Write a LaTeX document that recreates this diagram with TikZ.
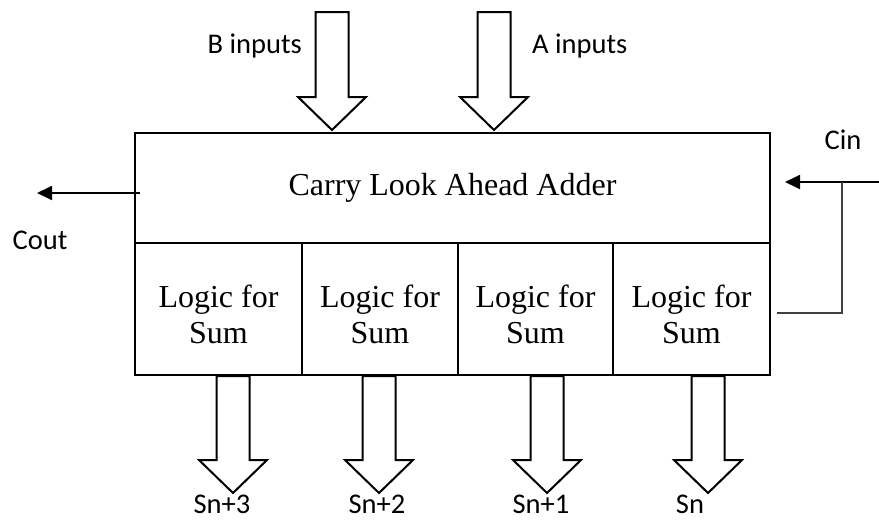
\documentclass[tikz,border=0pt]{standalone}
\usepackage{fontspec}
\setmainfont{Liberation Serif}
\newfontfamily\labfont{Carlito}
\usetikzlibrary{arrows.meta,calc}
\tikzset{
  box/.style={draw, line width=2pt, inner sep=0pt, outer sep=0pt, font=\fontsize{32}{36}\selectfont},
  cell/.style={box, minimum height=132pt},
  celltext/.style={inner sep=0pt, align=center, font=\fontsize{32}{36}\selectfont},
  lab/.style={font=\labfont\fontsize{28.5}{30}\selectfont, inner sep=0pt},
  sig/.style={line width=1.8pt, -{Triangle[length=15pt,width=14pt]}},
  fb/.style={line width=1.3pt, draw=black!75},
  blockarrow/.pic={
    \draw[line width=2pt, fill=white, line join=miter]
      (-16.5,0) -- (-16.5,#1) -- (-34,#1) -- (0,#1+33) -- (34,#1) -- (16.5,#1) -- (16.5,0) -- cycle;
  },
  blockarrow/.default=85
}
\begin{document}
\begin{tikzpicture}[x=1pt,y=-1pt]
\useasboundingbox (0,0) rectangle (879,520);
% main box
\node[box, minimum width=635pt, minimum height=110pt, anchor=north west] (cla) at (135,133) {Carry Look Ahead Adder};
% sum cells
\node[cell, minimum width=167pt, anchor=north west] (s3) at (cla.south west) {};
\node[cell, minimum width=156pt, anchor=north west] (s2) at (s3.north east) {};
\node[cell, minimum width=155pt, anchor=north west] (s1) at (s2.north east) {};
\node[cell, minimum width=157pt, anchor=north west] (s0) at (s1.north east) {};
\node[celltext] (t3) at ([yshift=-5pt]s3.center) {Logic for\\Sum};
\node[celltext] (t2) at ([yshift=-5pt]s2.center) {Logic for\\Sum};
\node[celltext] (t1) at ([yshift=-5pt]s1.center) {Logic for\\Sum};
\node[celltext] (t0) at ([yshift=-5pt]s0.center) {Logic for\\Sum};
% input block arrows
\pic at (332,12) {blockarrow=85};
\pic at (494,12) {blockarrow=85};
\node[lab, anchor=base east] (blab) at (302,53) {B inputs};
\node[lab, anchor=base west] (alab) at (532,53) {A inputs};
% output block arrows
\pic at (233,376) {blockarrow=84};
\pic at (379,376) {blockarrow=84};
\pic at (547,376) {blockarrow=84};
\pic at (708,376) {blockarrow=84};
\node[lab, anchor=base] (o3) at (222,513) {Sn+3};
\node[lab, anchor=base] (o2) at (377,513) {Sn+2};
\node[lab, anchor=base] (o1) at (541,513) {Sn+1};
\node[lab, anchor=base] (o0) at (690,513) {Sn};
% carry out
\coordinate (coutstart) at (140,193);
\coordinate (couttip) at (37,193);
\draw[sig] (coutstart) -- (couttip);
\node[lab, anchor=base] (cout) at (40,249) {Cout};
% carry in
\coordinate (cinsrc) at (879,182);
\coordinate (cintip) at (785,182);
\coordinate (cinsplit) at (842,182);
\coordinate (cinbend) at (842,313);
\coordinate (cinend) at (777,313);
\draw[sig] (cinsrc) -- (cintip);
\draw[fb] (cinsplit) -- (cinbend) -- (cinend);
\node[lab, anchor=base] (cin) at (843,149) {Cin};
\end{tikzpicture}
\end{document}
